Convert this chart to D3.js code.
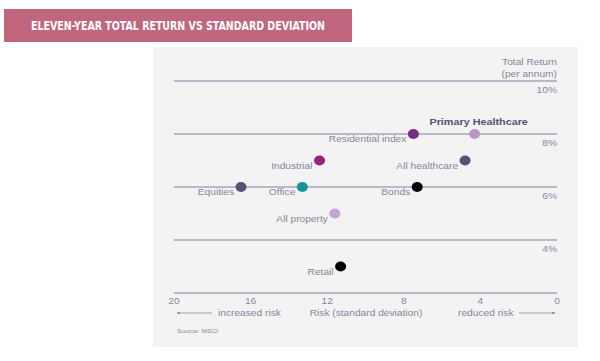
<!DOCTYPE html>
<html>
<head>
<meta charset="utf-8">
<script src="https://cdn.jsdelivr.net/npm/d3@7"></script>
<style>
  body { margin: 0; background: #fff; }
  svg { display: block; font-family: "Liberation Sans", Arial, sans-serif; }
</style>
</head>
<body>
<div id="chart"></div>
<script>
// data
var names   = ["Residential index", "Primary Healthcare", "Industrial", "All healthcare", "Equities", "Office", "Bonds", "All property", "Retail"];
var risk    = [7.5, 4.3, 12.4, 4.8, 16.5, 13.3, 7.3, 11.6, 11.3];
var returns = [8.0, 8.0, 7.0, 7.0, 6.0, 6.0, 6.0, 5.0, 3.0];
var colors  = ["#7a2a80", "#bb97c9", "#9b1f7c", "#5a4f75", "#5a4f75", "#14939b", "#000000", "#c3a3d2", "#000000"];
var yTicks  = [10, 8, 6, 4];
var xTicks  = [20, 16, 12, 8, 4, 0];

var width = 600, height = 361;
var stretch = 1.2; // the source text is a bit wider than it is tall

var svg = d3.select("#chart").append("svg")
    .attr("width", width)
    .attr("height", height);

// put text at (x,y) with a horizontal stretch
function place(sel, fx, fy) {
    return sel.attr("transform", function(d, i) {
        var px = typeof fx === "function" ? fx(d, i) : fx;
        var py = typeof fy === "function" ? fy(d, i) : fy;
        return "translate(" + px + "," + py + ") scale(" + stretch + ",1)";
    });
}

// title banner
svg.append("rect")
    .attr("x", 4).attr("y", 9)
    .attr("width", 348).attr("height", 33)
    .attr("fill", "#c1667f");
svg.append("text")
    .attr("x", 178).attr("y", 30)
    .attr("text-anchor", "middle")
    .attr("fill", "#fff")
    .attr("font-family", "'Liberation Sans Narrow', 'DejaVu Sans Condensed', sans-serif")
    .attr("font-weight", "bold")
    .attr("font-size", 12.5)
    .attr("textLength", 294)
    .attr("lengthAdjust", "spacingAndGlyphs")
    .text("ELEVEN-YEAR TOTAL RETURN VS STANDARD DEVIATION");

// grey panel
svg.append("rect")
    .attr("x", 153).attr("y", 47)
    .attr("width", 425).attr("height", 300)
    .attr("fill", "#f3f3f3");

// scales
var x = d3.scaleLinear().domain([20, 0]).range([174, 557]);
var y = d3.scaleLinear().domain([2, 10]).range([293, 81]);

var lineCol = "#aaa4bd", textCol = "#8a8599";

// horizontal gridlines + labels
var grid = svg.append("g").attr("class", "grid");
grid.selectAll("line")
    .data(yTicks.concat([2]))
    .enter().append("line")
    .attr("x1", x(20)).attr("x2", x(0))
    .attr("y1", function(d) { return y(d); })
    .attr("y2", function(d) { return y(d); })
    .attr("stroke", lineCol)
    .attr("stroke-width", 1.6);

place(grid.selectAll("text")
    .data(yTicks)
    .enter().append("text"), x(0), function(d) { return y(d) + 12; })
    .attr("text-anchor", "end")
    .attr("font-size", 8.5)
    .attr("fill", textCol)
    .text(function(d) { return d + "%"; });

place(svg.append("text"), x(0), 65)
    .attr("text-anchor", "end")
    .attr("font-size", 8.5)
    .attr("fill", textCol)
    .text("Total Return");
place(svg.append("text"), x(0), 77)
    .attr("text-anchor", "end")
    .attr("font-size", 8.5)
    .attr("fill", textCol)
    .text("(per annum)");

// x axis tick labels
place(svg.append("g").selectAll("text")
    .data(xTicks)
    .enter().append("text"), function(d) { return x(d); }, 304)
    .attr("text-anchor", "middle")
    .attr("font-size", 8.5)
    .attr("fill", textCol)
    .text(function(d) { return d; });

// axis caption row
var capY = 316;
place(svg.append("text"), 218, capY)
    .attr("font-size", 8.5).attr("fill", textCol)
    .text("increased risk");
place(svg.append("text"), 366, capY)
    .attr("text-anchor", "middle")
    .attr("font-size", 8.5).attr("fill", textCol)
    .text("Risk (standard deviation)");
place(svg.append("text"), 458, capY)
    .attr("font-size", 8.5).attr("fill", textCol)
    .text("reduced risk");

// arrows
var defs = svg.append("defs");
defs.append("marker")
    .attr("id", "arr")
    .attr("viewBox", "0 0 10 10")
    .attr("refX", 9).attr("refY", 5)
    .attr("markerWidth", 4).attr("markerHeight", 4)
    .attr("orient", "auto-start-reverse")
    .append("path")
    .attr("d", "M0,1 L10,5 L0,9 Z")
    .attr("fill", textCol);

svg.append("line")
    .attr("x1", 212).attr("x2", 177)
    .attr("y1", capY - 3).attr("y2", capY - 3)
    .attr("stroke", textCol).attr("stroke-width", 0.8)
    .attr("marker-end", "url(#arr)");
svg.append("line")
    .attr("x1", 519).attr("x2", 555)
    .attr("y1", capY - 3).attr("y2", capY - 3)
    .attr("stroke", textCol).attr("stroke-width", 0.8)
    .attr("marker-end", "url(#arr)");

place(svg.append("text"), 177, 333)
    .attr("font-size", 5.5)
    .attr("fill", textCol)
    .text("Source: MSCI");

// points
var pts = names.map(function(n, i) {
    return { name: n, risk: risk[i], ret: returns[i], color: colors[i] };
});

var g = svg.append("g").attr("class", "points");

function isPrimary(d) { return d.name === "Primary Healthcare"; }

place(g.selectAll("text")
    .data(pts)
    .enter().append("text"),
    function(d) { return isPrimary(d) ? x(d.risk) + 4 : x(d.risk) - 7; },
    function(d) { return isPrimary(d) ? y(d.ret) - 9 : y(d.ret) + 8; })
    .attr("text-anchor", function(d) { return isPrimary(d) ? "middle" : "end"; })
    .attr("font-size", function(d) { return isPrimary(d) ? 9 : 8.5; })
    .attr("font-weight", function(d) { return isPrimary(d) ? "bold" : "normal"; })
    .attr("fill", function(d) { return isPrimary(d) ? "#5a4f75" : textCol; })
    .text(function(d) { return d.name; });

g.selectAll("ellipse")
    .data(pts)
    .enter().append("ellipse")
    .attr("cx", function(d) { return x(d.risk); })
    .attr("cy", function(d) { return y(d.ret); })
    .attr("rx", 5.5)
    .attr("ry", 5)
    .attr("fill", function(d) { return d.color; });
</script>
</body>
</html>
